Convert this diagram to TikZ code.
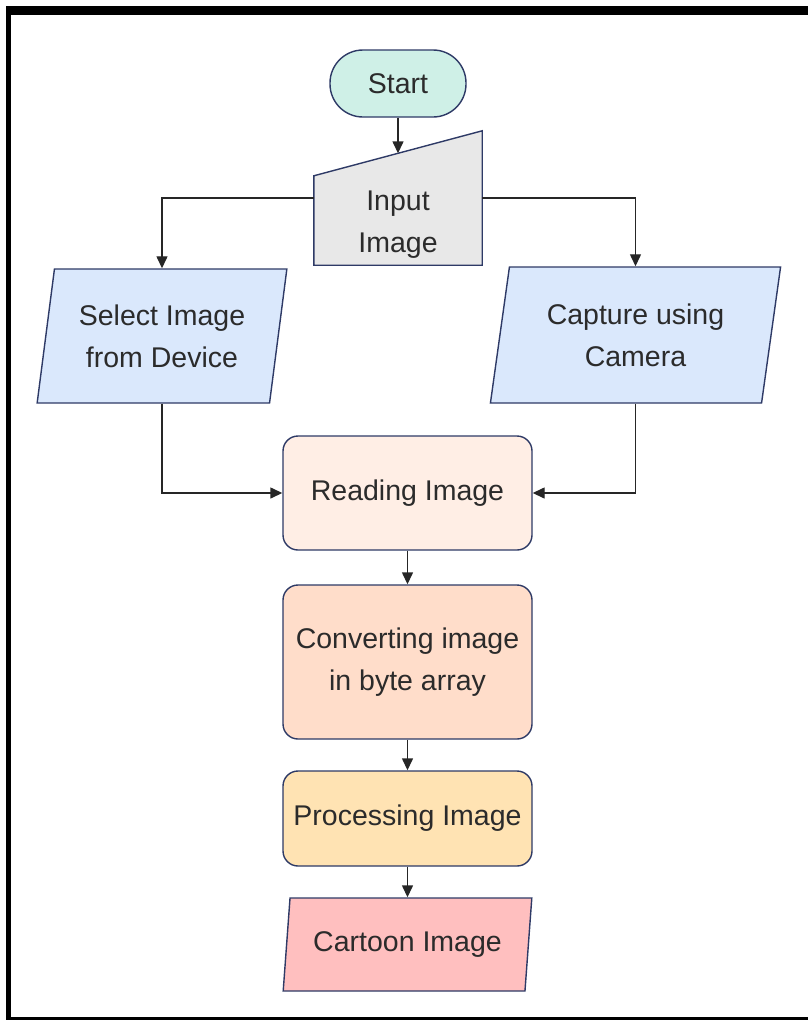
\documentclass[tikz,border=0pt]{standalone}
\usepackage{fontspec}
\setmainfont{Liberation Sans}
\usetikzlibrary{shapes.geometric,arrows.meta}

\definecolor{edgec}{HTML}{2E3A66}
\definecolor{linec}{HTML}{262626}
\definecolor{txtc}{HTML}{2B2B2B}
\definecolor{startc}{HTML}{CFF0E7}
\definecolor{inc}{HTML}{E8E8E8}
\definecolor{ioc}{HTML}{DAE8FC}
\definecolor{readc}{HTML}{FFEEE5}
\definecolor{convc}{HTML}{FFDDCA}
\definecolor{procc}{HTML}{FFE3B3}
\definecolor{outc}{HTML}{FFBFBF}

\tikzset{
  box/.style={draw=edgec, line width=1.4pt, text=txtc, align=center,
    inner sep=0pt, font=\fontsize{28.5}{42}\selectfont},
  term/.style={box, rectangle, rounded corners=33pt, minimum width=136, minimum height=67},
  proc/.style={box, rectangle, rounded corners=15pt, minimum width=249},
  io/.style={box, trapezium, trapezium left angle=78, trapezium right angle=102,
    trapezium stretches=true},
  flow/.style={draw=linec, line width=1.4pt, -{Triangle[width=11pt,length=12pt]}},
}

\begin{document}
\begin{tikzpicture}[x=1pt,y=-1pt]
  \useasboundingbox (0,0) rectangle (808,1020);
  % outer frame
  \fill (6,6) rectangle (808,15);
  \fill (6,6) rectangle (11,1020);
  \fill (6,1017) rectangle (808,1020);

  \node[term, fill=startc] (start) at (398,83.5) {Start};

  % manual input block
  \node[minimum width=168, minimum height=134, inner sep=0pt] (in) at (398,198) {};
  \draw[draw=edgec, line width=1.4pt, fill=inc] ([yshift=-45pt]in.north west)
    -- (in.north east) -- (in.south east) -- (in.south west) -- cycle;
  \node[box, draw=none] (intext) at (398,225) {Input\\Image};
  \coordinate (intop) at ([yshift=-22.5pt]in.north);

  \node[io, fill=ioc, minimum width=250, minimum height=134] (sel) at (162,336) {Select Image\\from Device};
  \node[io, fill=ioc, minimum width=291, minimum height=136] (cam) at (635.5,335) {Capture using\\Camera};
  \node[proc, fill=readc, minimum height=114] (read) at (407.5,493) {Reading Image};
  \node[proc, fill=convc, minimum height=154] (conv) at (407.5,662) {Converting image\\in byte array};
  \node[proc, fill=procc, minimum height=95] (proc) at (407.5,818.5) {Processing Image};
  \node[io, fill=outc, minimum width=249, minimum height=93] (out) at (407.5,944.5) {Cartoon Image};

  % connectors
  \draw[flow] (start) -- (intop);
  \draw[flow] (in.west) -| (sel.center |- sel.north);
  \draw[flow] (in.east) -| (cam.center |- cam.north);
  \draw[flow] (sel.center |- sel.south) |- (read.west);
  \draw[flow] (cam.center |- cam.south) |- (read.east);
  \draw[flow] (read) -- (conv);
  \draw[flow] (conv) -- (proc);
  \draw[flow] (proc) -- (out);
\end{tikzpicture}
\end{document}
